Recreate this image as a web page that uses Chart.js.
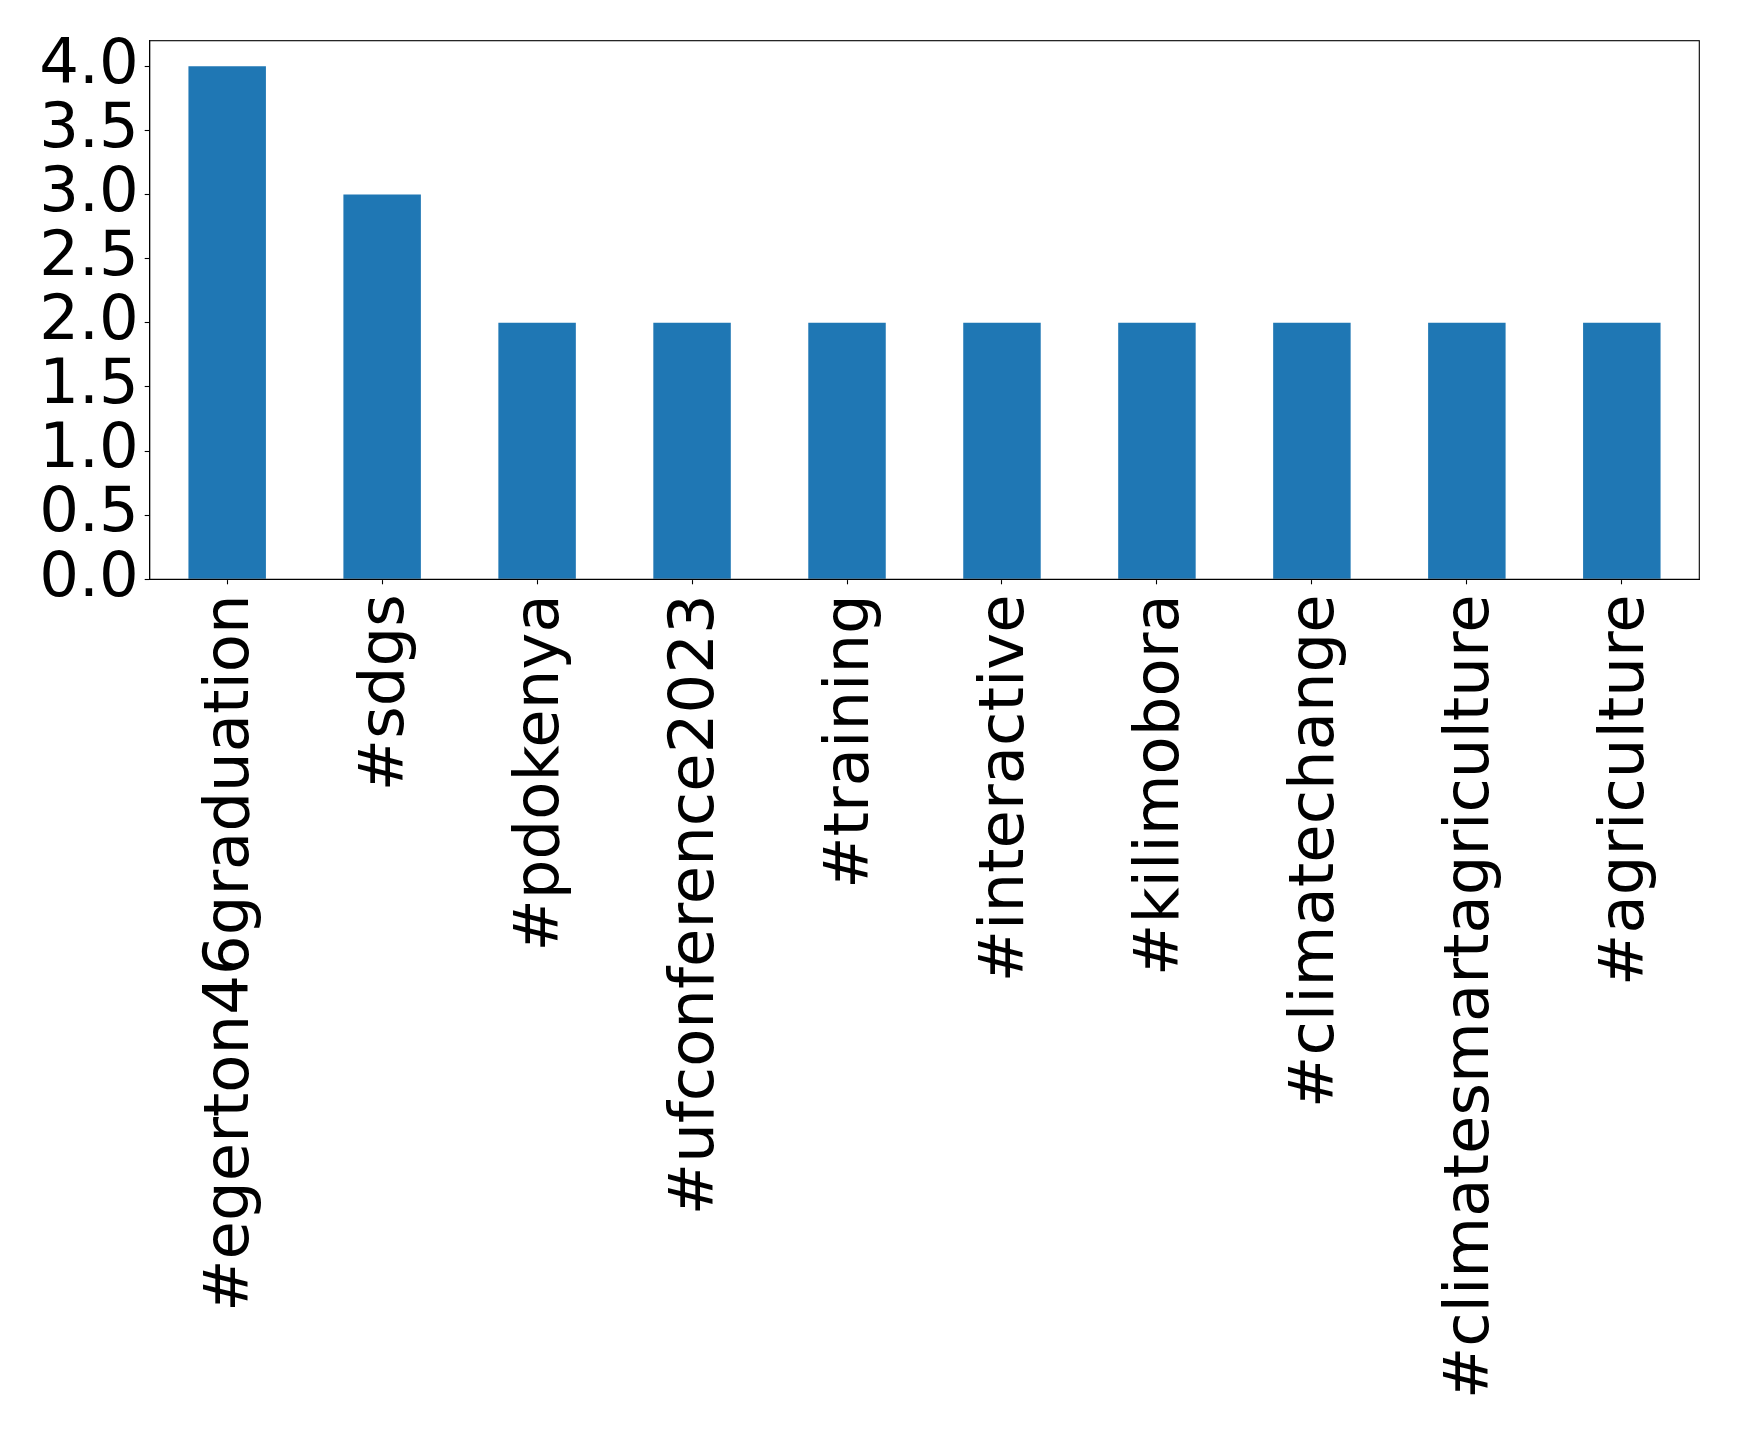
<!DOCTYPE html>
<html>
<head>
<meta charset="utf-8">
<script src="https://cdn.jsdelivr.net/npm/chart.js@4/dist/chart.umd.min.js"></script>
<style>
  html, body { margin: 0; padding: 0; background: #fff; }
  #wrap { width: 1739px; height: 1433px; }
</style>
</head>
<body>
<div id="wrap"><canvas id="hashtagChart" width="1739" height="1433"></canvas></div>
<script>
// 数据
const hashtags = [
    '#egerton46graduation', '#sdgs', '#pdokenya', '#ufconference2023', '#training',
    '#interactive', '#kilimobora', '#climatechange', '#climatesmartagriculture', '#agriculture'
];
const counts = [4, 3, 2, 2, 2, 2, 2, 2, 2, 2];
const yTicks = [0, 0.5, 1.0, 1.5, 2.0, 2.5, 3.0, 3.5, 4.0];

const barColor = '#1f77b4';
const tickFont = { family: 'DejaVu Sans', size: 62.5 };

// 外框（上、右边线）
const framePlugin = {
    id: 'frame',
    afterDraw(chart) {
        const a = chart.chartArea;
        const ctx = chart.ctx;
        ctx.save();
        ctx.strokeStyle = '#000';
        ctx.lineWidth = 1.1;
        ctx.strokeRect(a.left, a.top, a.right - a.left, a.bottom - a.top);
        ctx.restore();
    }
};

const ctx = document.getElementById('hashtagChart').getContext('2d');
const chart = new Chart(ctx, {
    type: 'bar',
    data: {
        labels: hashtags,
        datasets: [{
            data: counts,
            backgroundColor: barColor,
            barPercentage: 0.5,
            categoryPercentage: 1.0
        }]
    },
    options: {
        responsive: false,
        animation: false,
        devicePixelRatio: 1,
        layout: { padding: { top: 40.7, right: 39.7, left: 0, bottom: 0 } },
        plugins: {
            legend: { display: false },
            tooltip: { enabled: false }
        },
        scales: {
            x: {
                offset: true,
                grid: {
                    offset: false,
                    drawOnChartArea: false,
                    tickLength: 5,
                    tickColor: '#000',
                    tickWidth: 1.1
                },
                border: { color: '#000', width: 1.1 },
                ticks: {
                    autoSkip: false,
                    minRotation: 90,
                    maxRotation: 90,
                    padding: 10,
                    labelOffset: 5,
                    color: '#000',
                    font: tickFont
                },
                afterFit(scale) {
                    scale.height = 1433 - 579.3;
                    scale.paddingLeft = 0;
                    scale.paddingRight = 0;
                }
            },
            y: {
                min: 0,
                max: 4.2,
                grid: {
                    drawOnChartArea: false,
                    tickLength: 5,
                    tickColor: '#000',
                    tickWidth: 1.1
                },
                border: { color: '#000', width: 1.1 },
                ticks: {
                    stepSize: 0.5,
                    autoSkip: false,
                    includeBounds: false,
                    padding: 6,
                    color: '#000',
                    font: tickFont,
                    callback: function(value) {
                        return yTicks.includes(value) ? value.toFixed(1) : '';
                    }
                },
                afterFit(scale) {
                    scale.width = 149.7;
                    scale.paddingTop = 0;
                    scale.paddingBottom = 0;
                }
            }
        }
    },
    plugins: [framePlugin]
});
</script>
</body>
</html>
